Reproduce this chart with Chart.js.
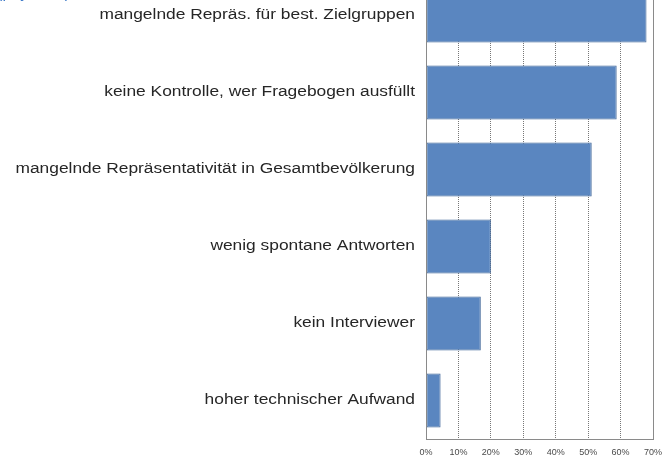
<!DOCTYPE html>
<html>
<head>
<meta charset="utf-8">
<script src="https://cdn.jsdelivr.net/npm/chart.js@4/dist/chart.umd.min.js"></script>
<style>
  html, body { margin: 0; padding: 0; background: #fff; overflow: hidden; }
  #chart { display: block; margin-top: -30px; }
</style>
</head>
<body>
<canvas id="chart" width="664" height="491"></canvas>
<script>
// Nachteile - Anteil der Nennungen in %
const categories = [
    'mangelnde Repräs. für best. Zielgruppen',
    'keine Kontrolle, wer Fragebogen ausfüllt',
    'mangelnde Repräsentativität in Gesamtbevölkerung',
    'wenig spontane Antworten',
    'kein Interviewer',
    'hoher technischer Aufwand'
];
const shares = [68, 58.8, 51.1, 20, 16.9, 4.5];
const tickValues = [0, 10, 20, 30, 40, 50, 60, 70];
const titleText = 'Nachteile Online-Befragung (physisch)';

const framePlugin = {
    id: 'frame',
    beforeDraw: (chart) => {
        const ys = chart.scales.y;
        if (!ys._wide) {
            // the labels in the original are stretched sideways
            const orig = ys.drawLabels;
            ys.drawLabels = function (area) {
                const c = this.ctx;
                const edge = this.right - 11;
                c.save();
                c.translate(edge, 0);
                c.scale(1.24, 1);
                c.translate(-edge, 0);
                orig.call(this, area);
                c.restore();
            };
            ys._wide = true;
        }
    },
    afterDraw: (chart) => {
        const {ctx, chartArea} = chart;
        ctx.save();
        ctx.strokeStyle = '#8a8a8a';
        ctx.lineWidth = 1;
        ctx.strokeRect(Math.round(chartArea.left) + 0.5, Math.round(chartArea.top) + 0.5,
            Math.round(chartArea.right - chartArea.left), Math.round(chartArea.bottom - chartArea.top));
        // cut-off heading of the slide
        ctx.fillStyle = '#3f7bc9';
        ctx.font = '16px "Liberation Sans", Arial, sans-serif';
        ctx.textAlign = 'right';
        ctx.textBaseline = 'alphabetic';
        ctx.fillText(titleText, 70, 28);
        ctx.restore();
    }
};

const ctx = document.getElementById('chart').getContext('2d');
const chart = new Chart(ctx, {
    type: 'bar',
    data: {
        labels: categories,
        datasets: [{
            data: shares,
            backgroundColor: '#5a86c0',
            borderColor: '#3f6496',
            borderWidth: 1,
            borderSkipped: false,
            barPercentage: 0.7,
            categoryPercentage: 1.0
        }]
    },
    options: {
        indexAxis: 'y',
        responsive: false,
        animation: false,
        devicePixelRatio: 1,
        layout: { padding: { top: 7, right: 11, bottom: 0, left: 0 } },
        plugins: {
            legend: { display: false },
            tooltip: { enabled: false },
            title: { display: false }
        },
        scales: {
            x: {
                min: 0,
                max: 70,
                afterBuildTicks: (scale) => { scale.ticks = tickValues.map(v => ({value: v})); },
                afterFit: (scale) => {
                    scale.height = 22;
                    scale.paddingLeft = 0;
                    scale.paddingRight = 0;
                },
                grid: {
                    drawTicks: false,
                    lineWidth: 1,
                    color: (c) => (c.tick && (c.tick.value === 0 || c.tick.value === 70)) ? 'rgba(0,0,0,0)' : '#777'
                },
                border: { display: false, dash: [1, 1] },
                ticks: {
                    padding: 8,
                    color: '#4a4a4a',
                    font: { family: '"Liberation Sans", Arial, sans-serif', size: 9 },
                    callback: (v) => v + '%'
                }
            },
            y: {
                afterFit: (scale) => {
                    scale.width = 426;
                    scale.paddingTop = 0;
                    scale.paddingBottom = 0;
                },
                grid: { display: false, drawTicks: false },
                border: { display: false },
                ticks: {
                    padding: 11,
                    color: '#262626',
                    font: { family: '"Liberation Sans", Arial, sans-serif', size: 14 }
                }
            }
        }
    },
    plugins: [framePlugin]
});
</script>
</body>
</html>
